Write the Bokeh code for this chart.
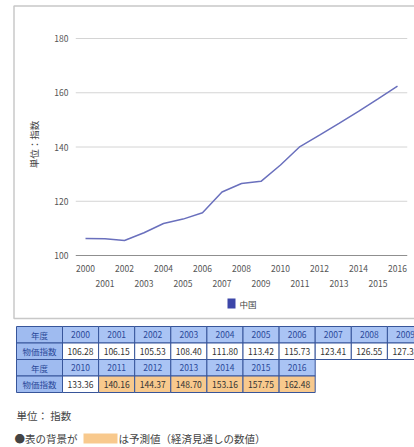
import math
from bokeh.plotting import figure
from bokeh.models import Range1d, ColumnDataSource
from bokeh.embed import file_html
from bokeh.resources import INLINE
from bokeh.core.properties import value

# ---------------- data ----------------
years = [2000, 2001, 2002, 2003, 2004, 2005, 2006, 2007, 2008,
         2009, 2010, 2011, 2012, 2013, 2014, 2015, 2016]
index_values = [106.28, 106.15, 105.53, 108.40, 111.80, 113.42, 115.73, 123.41, 126.55,
                127.35, 133.36, 140.16, 144.37, 148.70, 153.16, 157.75, 162.48]
forecast_from = 2011
series_name = "中国"
y_title = "単位：指数"
y_ticks = [100, 120, 140, 160, 180]
row_labels = ["年度", "物価指数"]
note_unit = "単位： 指数"
note_pre = "●表の背景が"
note_post = "は予測値（経済見通しの数値）"

# ---------------- layout constants (pixels) ----------------
W, H = 414, 447
X_FIRST_PX, X_LAST_PX = 85, 397      # screen x of first / last year
Y_LOW_PX, Y_HIGH_PX = 255, 38        # screen y of lowest / highest tick
FONT = "Noto Sans CJK JP"
LINE_COLOR = "#6a70bd"
SQ_COLOR = "#3c46a8"
TXT = "#555555"

ppx = (X_LAST_PX - X_FIRST_PX) / (years[-1] - years[0])
ppy = (Y_LOW_PX - Y_HIGH_PX) / (y_ticks[-1] - y_ticks[0])
x0 = years[0] - X_FIRST_PX / ppx
y0 = y_ticks[0] - (H - Y_LOW_PX) / ppy

p = figure(width=W, height=H,
           x_range=Range1d(x0, x0 + W / ppx), y_range=Range1d(y0, y0 + H / ppy),
           x_axis_type=None, y_axis_type=None, output_backend="svg",
           toolbar_location=None, min_border=0)
p.extra_x_ranges = {"px": Range1d(0, W)}
p.extra_y_ranges = {"py": Range1d(H, 0)}
p.outline_line_color = None
p.grid.visible = False
p.background_fill_color = "white"
p.border_fill_color = "white"

# chart box
p.quad(left=[13.5], right=[W + 5], top=[5.5], bottom=[318], fill_color=None,
       line_color="#c8c8c8", line_width=1.5, x_range_name="px", y_range_name="py")

# gridlines
gx0, gx1 = years[0] - 0.5, years[-1] + 0.5
p.segment(x0=[gx0] * len(y_ticks), x1=[gx1] * len(y_ticks), y0=y_ticks, y1=y_ticks,
          line_color=["#8f8f8f"] + ["#d4d4d4"] * (len(y_ticks) - 1), line_width=1)

# y tick labels
p.text(x=[68] * len(y_ticks), y=y_ticks, text=[str(v) for v in y_ticks],
       text_align="right", text_baseline="middle", text_font=value(FONT),
       text_font_size="8.5px", text_color=TXT, x_range_name="px")

# x tick labels (staggered)
even = years[0::2]
odd = years[1::2]
p.text(x=even, y=[268] * len(even), text=[str(v) for v in even], text_align="center",
       text_baseline="middle", text_font=value(FONT), text_font_size="8.5px",
       text_color=TXT, y_range_name="py")
p.text(x=odd, y=[283] * len(odd), text=[str(v) for v in odd], text_align="center",
       text_baseline="middle", text_font=value(FONT), text_font_size="8.5px",
       text_color=TXT, y_range_name="py")

# y title
p.text(x=[33], y=[144], text=[y_title], angle=math.pi / 2, text_align="center",
       text_baseline="middle", text_font=value(FONT), text_font_size="9.5px",
       text_color="#444444", x_range_name="px", y_range_name="py")

# series line
p.line(years, index_values, line_color=LINE_COLOR, line_width=1.5)

# legend (square swatch + label)
p.quad(left=[227], right=[235], top=[298], bottom=[308], fill_color=SQ_COLOR,
       line_color=None, x_range_name="px", y_range_name="py")
p.text(x=[239], y=[303], text=[series_name], text_font=value(FONT), text_font_size="8.5px",
       text_color="#444444", text_baseline="middle", x_range_name="px", y_range_name="py")

# ---------------- table ----------------
X0, LABEL_W, COL_W = 16, 46, 36.1
Y0, ROW_H = 326, 16.5
PER_ROW = 10
HEAD_BG, LABEL_BG, DATA_BG, FC_BG = "#aac4f4", "#9fbbf0", "#ffffff", "#f8c98d"
BORDER = "#37559a"

cx, cy, cw, ch, cf, ctext, ccol = [], [], [], [], [], [], []
n_groups = (len(years) + PER_ROW - 1) // PER_ROW
for g in range(n_groups):
    gy = years[g * PER_ROW:(g + 1) * PER_ROW]
    gv = index_values[g * PER_ROW:(g + 1) * PER_ROW]
    for r, lab in enumerate(row_labels):
        row = 2 * g + r
        cx.append(X0 + LABEL_W / 2); cy.append(Y0 + ROW_H * (row + 0.5))
        cw.append(LABEL_W); ch.append(ROW_H); cf.append(LABEL_BG)
        ctext.append(lab); ccol.append("#2b4a9a")
        for j, (yr, v) in enumerate(zip(gy, gv)):
            cx.append(X0 + LABEL_W + COL_W * (j + 0.5)); cy.append(Y0 + ROW_H * (row + 0.5))
            cw.append(COL_W); ch.append(ROW_H)
            if r == 0:
                cf.append(HEAD_BG); ctext.append(str(yr)); ccol.append("#2b4a9a")
            else:
                cf.append(FC_BG if yr >= forecast_from else DATA_BG)
                ctext.append(f"{v:.2f}"); ccol.append("#333333")

src = ColumnDataSource(dict(x=cx, y=cy, w=cw, h=ch, fill=cf, text=ctext, color=ccol))
p.rect(x="x", y="y", width="w", height="h", fill_color="fill", line_color=BORDER,
       line_width=1, source=src, x_range_name="px", y_range_name="py")
p.text(x="x", y="y", text="text", text_color="color", text_align="center",
       text_baseline="middle", text_font=value(FONT), text_font_size="8.5px", source=src,
       x_range_name="px", y_range_name="py")

# notes
p.text(x=[16], y=[415], text=[note_unit], text_font=value(FONT), text_font_size="10.5px",
       text_color="#444444", text_baseline="middle", x_range_name="px", y_range_name="py")
p.text(x=[14], y=[438], text=[note_pre], text_font=value(FONT), text_font_size="10.5px",
       text_color="#444444", text_baseline="middle", x_range_name="px", y_range_name="py")
p.quad(left=[83], right=[117], top=[433], bottom=[443], fill_color=FC_BG, line_color=None,
       x_range_name="px", y_range_name="py")
p.text(x=[118], y=[438], text=[note_post], text_font=value(FONT), text_font_size="10.5px",
       text_color="#444444", text_baseline="middle", x_range_name="px", y_range_name="py")

open("out.html", "w").write(file_html(p, INLINE))
